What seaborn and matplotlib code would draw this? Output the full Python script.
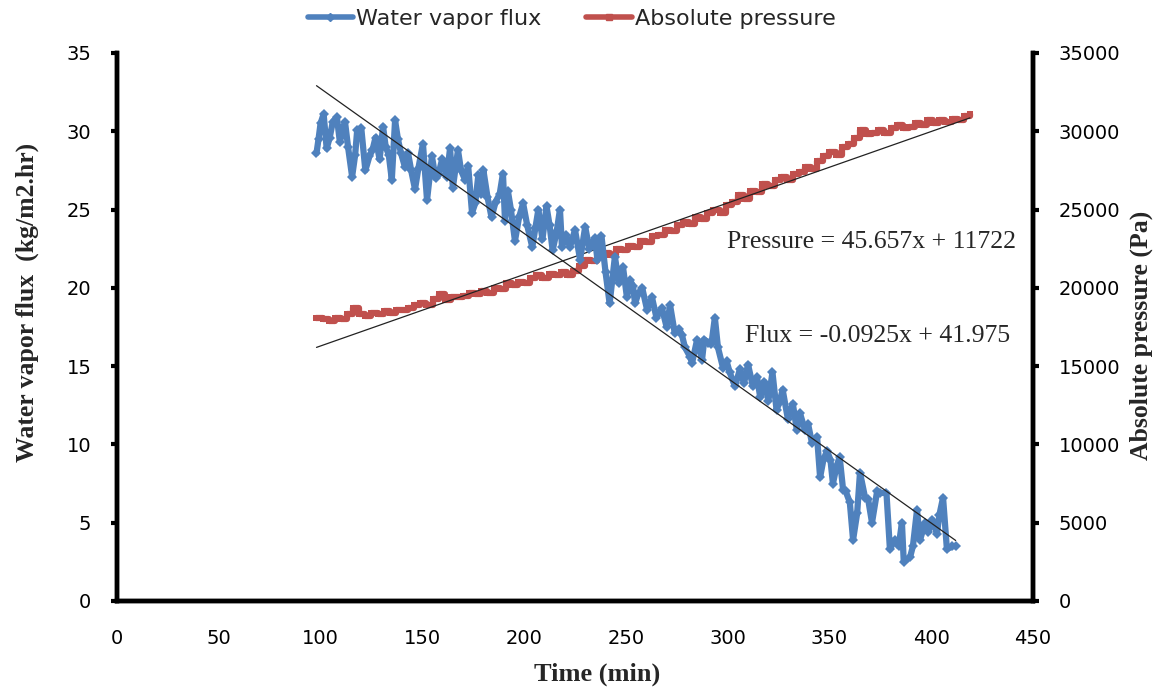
import numpy as np
import pandas as pd
import matplotlib
matplotlib.use("Agg")
import matplotlib.pyplot as plt
import seaborn as sns
from matplotlib.lines import Line2D

# ---------------- data ----------------
flux_time = [98, 99, 100, 101.5, 103, 104.5, 106, 108, 109.5, 111, 112, 113.5, 115.5, 117, 118, 120,
             122, 124, 125.5, 127, 129, 130.7, 132, 133.5, 135, 136.6, 138, 139.5, 141.5, 143, 144.5,
             146.4, 148, 150.3, 152.3, 154.7, 156.5, 158, 159.7, 162, 163.6, 165, 167.5, 169, 171,
             172.5, 174.4, 176, 177.5, 179, 180, 182, 184, 186, 188, 189.6, 190.6, 192, 193.5, 195.5,
             197.5, 199.5, 201.5, 204, 205.5, 207, 209, 211, 212.5, 214, 216, 217.6, 218.6, 220.5,
             222.5, 225, 227.5, 230, 232, 234.8, 236, 238, 240, 242, 244.6, 246.5, 248.6, 250.5, 252,
             253.5, 254.5, 256, 258, 260.4, 262.8, 265, 267.7, 270, 271.7, 274, 276, 277.5, 279, 281.5,
             282.5, 285, 287.4, 288.5, 290.3, 292, 293.7, 295.2, 297.7, 299.5, 301, 303.6, 306, 308,
             310, 312.4, 314.4, 316, 318, 320, 322, 324, 325.5, 327, 329.6, 332, 334, 335.5, 338, 339.5,
             341.4, 343.9, 345.4, 347, 348.8, 350.5, 351.7, 353.5, 355, 356.7, 358, 360, 361.6, 363.6,
             365, 367.5, 369, 370.9, 373.4, 375, 378, 379.7, 382, 384, 385.6, 386.5, 389.6, 391, 393,
             394.5, 397, 398.5, 400.4, 402.8, 404, 405.8, 407.7, 410.2, 412]
flux_value = [28.6, 29.5, 30.5, 31.1, 28.9, 29.6, 30.6, 30.9, 29.3, 30.2, 30.6, 29.0, 27.1, 28.5, 30.1, 30.2,
              27.5, 28.4, 28.8, 29.6, 28.2, 30.3, 29.0, 28.5, 26.9, 30.7, 29.5, 28.6, 27.7, 28.6, 27.5,
              26.3, 27.6, 29.2, 25.6, 28.4, 27.0, 27.3, 28.2, 27.1, 28.9, 26.4, 28.8, 27.5, 26.9,
              27.8, 24.8, 25.4, 27.2, 26.0, 27.5, 25.8, 24.5, 25.5, 26.0, 27.3, 24.3, 26.2, 25.0, 23.0,
              24.5, 25.4, 24.0, 22.6, 23.8, 25.0, 23.1, 25.2, 24.0, 22.4, 23.6, 25.0, 22.6, 23.4,
              22.6, 23.7, 21.8, 23.9, 22.5, 23.2, 21.8, 23.3, 21.0, 19.0, 22.0, 20.3, 21.3, 19.4, 20.5,
              20.1, 19.0, 19.6, 20.0, 18.6, 19.4, 18.1, 18.7, 17.5, 18.9, 17.1, 17.4, 17.0, 16.2, 15.6,
              15.2, 16.7, 15.4, 16.7, 16.5, 16.4, 18.1, 16.2, 14.9, 15.3, 14.6, 13.7, 14.8, 13.9,
              15.1, 13.7, 14.3, 13.0, 14.0, 12.8, 14.6, 12.2, 12.7, 13.5, 11.6, 12.6, 10.9, 12.0, 10.9, 11.3,
              10.1, 10.5, 7.9, 9.0, 9.6, 9.0, 7.5, 8.6, 9.2, 7.1, 7.0, 6.3, 3.9, 5.6,
              8.2, 6.6, 6.5, 5.0, 7.0, 6.9, 6.9, 3.3, 3.9, 3.5, 5.0, 2.5, 2.8, 3.5, 5.8,
              3.9, 5.0, 4.4, 5.2, 4.3, 5.5, 6.6, 3.3, 3.5, 3.5]

pressure_time = list(range(98, 420, 3))
pressure_value = [18100, 18000, 17900, 18100, 18000, 18300, 18700, 18300, 18200, 18400, 18300, 18500,
                  18400, 18600, 18600, 18700, 18900, 19000, 18900, 19300, 19600, 19200, 19400, 19400,
                  19500, 19700, 19600, 19800, 19700, 20000, 19900, 20300, 20200, 20400, 20300, 20600,
                  20800, 20600, 20900, 20800, 21000, 20800, 21100, 21400, 21800, 21700, 22000, 22200,
                  22100, 22500, 22400, 22700, 22600, 23000, 22900, 23300, 23400, 23700, 23600, 24000,
                  24200, 24100, 24500, 24400, 24800, 25000, 24800, 25300, 25500, 25900, 25700, 26200,
                  26100, 26600, 26500, 26900, 27100, 26900, 27300, 27400, 27700, 27600, 28100, 28400,
                  28700, 28500, 29000, 29200, 29600, 30100, 29800, 29900, 30100, 29900, 30200, 30400,
                  30200, 30300, 30500, 30400, 30700, 30500, 30700, 30600, 30800, 30700, 31000, 31100]

# trend-line coefficients (as printed on the chart)
flux_slope, flux_intercept = -0.0925, 41.975
pres_slope, pres_intercept = 45.657, 11722
flux_trend_range = [98, 412]
pres_trend_range = [98, 419]

x_ticks = list(range(0, 451, 50))
flux_ticks = list(range(0, 36, 5))
pres_ticks = list(range(0, 35001, 5000))

BLUE = "#4F81BD"
RED = "#C0504D"

# ---------------- plot ----------------
sns.set_theme(style="white")
plt.rcParams["font.family"] = ["DejaVu Sans"]

fig = plt.figure(figsize=(11.62, 6.87), dpi=100)
ax = fig.add_axes([0.1007, 0.1252, 0.7883, 0.7977])
ax2 = ax.twinx()

flux_df = pd.DataFrame({"t": flux_time, "v": flux_value})
pres_df = pd.DataFrame({"t": pressure_time[:len(pressure_value)], "v": pressure_value})

sns.lineplot(data=flux_df, x="t", y="v", ax=ax, color=BLUE, lw=4.5, marker="D",
             markersize=5, markeredgewidth=0, sort=False, zorder=3)
sns.lineplot(data=pres_df, x="t", y="v", ax=ax2, color=RED, lw=4.5, marker="s",
             markersize=5, markeredgewidth=0, sort=False, drawstyle="steps-post", zorder=2)

# trend lines
ft = np.array(flux_trend_range, dtype=float)
ax.plot(ft, flux_intercept + flux_slope * ft, color="#222222", lw=0.9, zorder=5)
pt = np.array(pres_trend_range, dtype=float)
ax2.plot(pt, pres_intercept + pres_slope * pt, color="#222222", lw=0.9, zorder=5)

ax.set_xlim(0, 450)
ax.set_ylim(0, 35)
ax2.set_ylim(0, 35000)
ax.set_xticks(x_ticks)
ax.set_yticks(flux_ticks)
ax2.set_yticks(pres_ticks)

for a in (ax, ax2):
    for s in a.spines.values():
        s.set_linewidth(3.2)
        s.set_color("black")
    a.spines["top"].set_visible(False)
    a.grid(False)
    a.tick_params(direction="out", length=4.5, width=3, colors="black", labelsize=14, pad=14)
ax.tick_params(axis="x", pad=16)
ax2.set_zorder(ax.get_zorder() - 1)
ax.set_zorder(2)
ax.patch.set_visible(False)

serif = ["Liberation Serif", "DejaVu Serif"]
ax.set_xlabel("Time (min)", family=serif, fontweight="bold", fontsize=19)
ax.xaxis.set_label_coords(0.524, -0.113)
ax.set_ylabel("Water vapor flux  (kg/m2.hr)", family=serif, fontweight="bold", fontsize=18.5)
ax.yaxis.set_label_coords(-0.085, 0.545)
ax2.set_ylabel("Absolute pressure (Pa)", family=serif, fontweight="bold", fontsize=18.5)
ax2.yaxis.set_label_coords(1.105, 0.485)

ax.text(299.5, 22.9, "Pressure = 45.657x + 11722", family=serif, fontsize=18.5, va="center", ha="left")
ax.text(308.5, 16.9, "Flux = -0.0925x + 41.975", family=serif, fontsize=18.5, va="center", ha="left")

handles = [Line2D([0, 0.5, 1], [0, 0, 0], color=BLUE, lw=4, marker="D", markersize=4, markevery=[1]),
           Line2D([0, 0.5, 1], [0, 0, 0], color=RED, lw=4, marker="s", markersize=4, markevery=[1])]
fig.legend(handles, ["Water vapor flux", "Absolute pressure"], loc="upper center",
           bbox_to_anchor=(0.492, 1.016), ncol=2, frameon=False, fontsize=16,
           handlelength=2.05, handletextpad=0.15, columnspacing=2.0)

fig.savefig("out.png", dpi=100)
